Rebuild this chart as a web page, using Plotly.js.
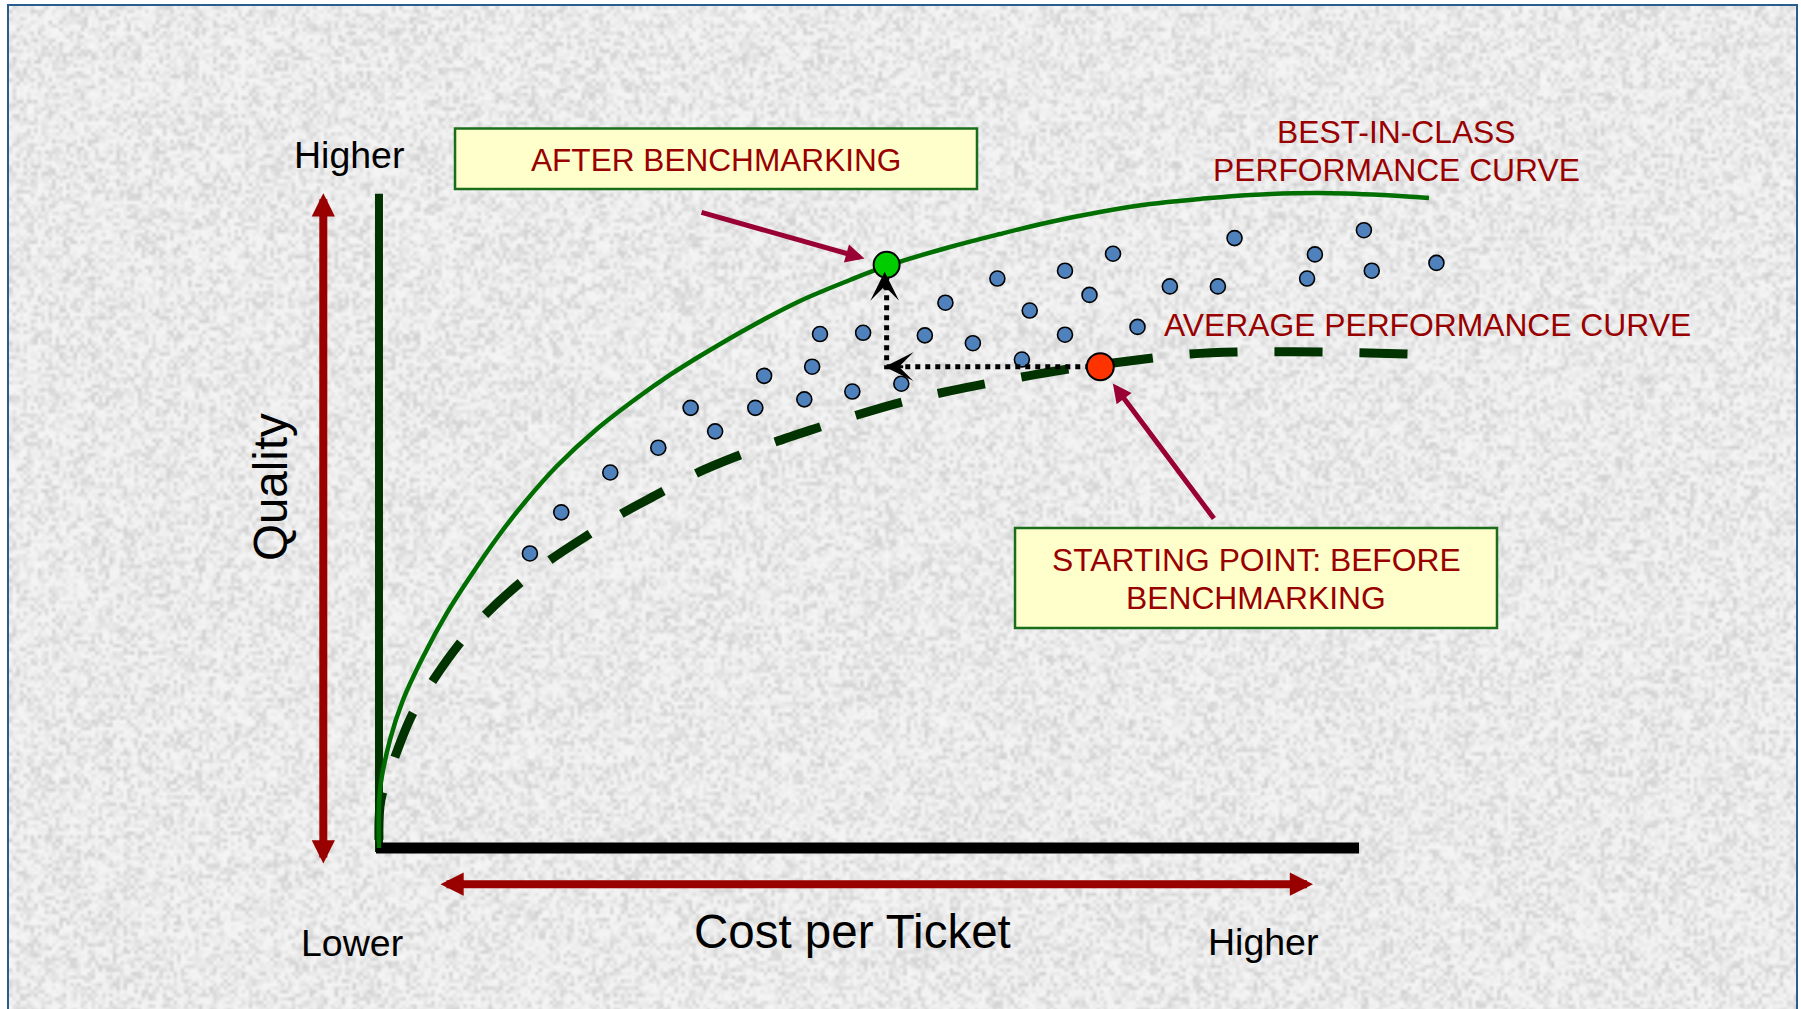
<!DOCTYPE html>
<html>
<head>
<meta charset="utf-8">
<script src="https://cdn.plot.ly/plotly-3.0.1.min.js"></script>
<style>
html,body{margin:0;padding:0;overflow:hidden;background:#ffffff;}
#chart{width:1801px;height:1009px;}
</style>
</head>
<body>
<div id="chart"></div>
<script>
// ---------------- DATA (cost index 0-100 along the axis, quality index 0-100) ----------------
const bestCost    = [0, 0.1, 1.12, 2.45, 4.49, 6.94, 9.29, 12.04, 14.9, 18.16, 22.24, 26.33, 29.69, 32.76, 37.86, 42.96, 48.06, 51.84, 58.27, 63.37, 68.47, 73.57, 78.67, 83.78, 88.88, 95.71, 102.45, 107.14];
const bestQuality = [0, 8.88, 16.54, 22.66, 29.25, 35.99, 41.5, 47.47, 52.99, 58.5, 64.17, 68.91, 72.44, 75.34, 79.79, 83.77, 86.98, 89.13, 92.04, 94.03, 95.87, 97.4, 98.62, 99.39, 100.0, 100.31, 100.0, 99.54];

const avgCost    = [0, 0.2, 1.63, 3.37, 5.41, 8.27, 10.82, 14.39, 17.45, 21.33, 24.9, 28.67, 32.45, 36.84, 40.41, 45.0, 48.78, 53.37, 58.27, 65.61, 70.31, 74.9, 78.98, 82.76, 87.65, 96.33, 105.0];
const avgQuality = [1.23, 7.35, 13.94, 20.37, 25.42, 31.39, 35.68, 40.58, 44.1, 47.93, 51.3, 54.36, 57.43, 60.18, 62.17, 64.47, 66.31, 68.3, 70.0, 72.13, 73.35, 74.27, 75.04, 75.65, 75.96, 75.96, 75.65];

const peerCost    = [15.4, 18.6, 23.6, 28.5, 31.8, 34.3, 38.4, 39.3, 43.4, 44.2, 45.0, 48.3, 49.4, 53.3, 55.7, 57.8, 60.6, 63.1, 65.6, 66.4, 70.0, 70.0, 72.5, 74.9, 77.4, 80.7, 85.6, 87.3, 94.7, 95.5, 100.5, 101.3, 107.9];
const peerQuality = [45.1, 51.4, 57.5, 61.3, 67.4, 63.8, 67.4, 72.3, 68.7, 73.7, 78.7, 69.9, 78.9, 71.1, 78.5, 83.5, 77.3, 87.2, 74.8, 82.3, 88.4, 78.6, 84.7, 91.0, 79.8, 86.0, 86.0, 93.4, 87.2, 90.9, 94.6, 88.4, 89.6];

const startCost    = [73.6];   // starting point: before benchmarking
const startQuality = [73.7];
const afterCost    = [51.8];   // after benchmarking
const afterQuality = [89.3];

const axisLabels = {qualityLow: 'Lower', qualityHigh: 'Higher', costHigh: 'Higher'};

// ---------------- BACKGROUND TEXTURE ----------------
function paperTexture(w, h) {
  const c = document.createElement('canvas');
  c.width = w; c.height = h;
  const ctx = c.getContext('2d');
  const img = ctx.createImageData(w, h);
  let s = 987654321;
  for (let i = 0; i < w * h; i++) {
    s = (s * 1664525 + 1013904223) >>> 0;
    const r = s / 4294967296;
    const v = Math.round(245 - 36 * r * r);
    img.data[4 * i] = v; img.data[4 * i + 1] = v; img.data[4 * i + 2] = v; img.data[4 * i + 3] = 255;
  }
  ctx.putImageData(img, 0, 0);
  return c.toDataURL();
}

const FONT = 'Liberation Sans, Arial, sans-serif';
const DARKRED = '#990000';
const ARROWRED = '#990033';

// ---------------- TRACES ----------------
const traces = [
  { x: avgCost, y: avgQuality, mode: 'lines', type: 'scatter',
    line: { color: '#003300', width: 9, dash: '48px,37px', shape: 'spline', smoothing: 1 } },
  { x: bestCost, y: bestQuality, mode: 'lines', type: 'scatter',
    line: { color: '#006e00', width: 4.5, shape: 'spline', smoothing: 1 } },
  { x: peerCost, y: peerQuality, mode: 'markers', type: 'scatter',
    marker: { size: 15, color: '#4f81bd', line: { color: '#000000', width: 1.6 } } },
  { x: [startCost[0], afterCost[0], afterCost[0]], y: [startQuality[0], startQuality[0], afterQuality[0]],
    mode: 'lines', type: 'scatter', line: { color: '#000000', width: 5, dash: 'dot' } },
  { x: startCost, y: startQuality, mode: 'markers', type: 'scatter',
    marker: { size: 27, color: '#ff3300', line: { color: '#000000', width: 2 } } },
  { x: afterCost, y: afterQuality, mode: 'markers', type: 'scatter',
    marker: { size: 26, color: '#00cc00', line: { color: '#000000', width: 2 } } }
];

// ---------------- LAYOUT ----------------
const layout = {
  width: 1801, height: 1009,
  margin: { l: 0, r: 0, t: 0, b: 0 },
  paper_bgcolor: '#ffffff',
  plot_bgcolor: 'rgba(0,0,0,0)',
  showlegend: false,
  hovermode: false,
  xaxis: { range: [-38.67, 145.10], visible: false },
  yaxis: { range: [-24.66, 129.86], visible: false },
  images: [{
    source: paperTexture(500, 280), xref: 'paper', yref: 'paper',
    x: 0.005, y: 0.994, sizex: 0.993, sizey: 1.0, sizing: 'stretch',
    xanchor: 'left', yanchor: 'top', layer: 'below'
  }],
  shapes: [
    // frame
    { type: 'rect', xref: 'paper', yref: 'paper', x0: 8 / 1801, x1: 1797 / 1801, y0: -0.02, y1: 1 - 5 / 1009,
      line: { color: '#2a5d8f', width: 2 }, fillcolor: 'rgba(0,0,0,0)' },
    // vertical axis (quality)
    { type: 'line', xref: 'x', yref: 'y', x0: 0, x1: 0, y0: -0.6, y1: 100.2,
      line: { color: '#003300', width: 8 }, layer: 'below' },
    // horizontal axis (cost)
    { type: 'line', xref: 'x', yref: 'y', x0: -0.3, x1: 100, y0: 0, y1: 0,
      line: { color: '#000000', width: 11 }, layer: 'below' },
    // after benchmarking box
    { type: 'rect', xref: 'x', yref: 'y', x0: 7.76, x1: 61.02, y0: 100.92, y1: 110.18,
      fillcolor: '#ffffcc', line: { color: '#1a6e1a', width: 2.5 } },
    // starting point box
    { type: 'rect', xref: 'x', yref: 'y', x0: 64.9, x1: 114.08, y0: 33.69, y1: 49.0,
      fillcolor: '#ffffcc', line: { color: '#1a6e1a', width: 2.5 } }
  ],
  annotations: [
    // direction arrows (dark red, double headed)
    { x: -5.68, y: 100.26, ax: -5.68, ay: -2.6, xref: 'x', yref: 'y', axref: 'x', ayref: 'y', text: '',
      showarrow: true, arrowside: 'end+start', arrowhead: 2, startarrowhead: 2, arrowsize: 0.58, startarrowsize: 0.58,
      arrowwidth: 8, arrowcolor: DARKRED },
    { x: 95.31, y: -5.54, ax: 6.12, ay: -5.54, xref: 'x', yref: 'y', axref: 'x', ayref: 'y', text: '',
      showarrow: true, arrowside: 'end+start', arrowhead: 2, startarrowhead: 2, arrowsize: 0.58, startarrowsize: 0.58,
      arrowwidth: 8, arrowcolor: DARKRED },
    // dotted arrow heads
    { x: afterCost[0] - 0.2, y: startQuality[0], ax: 20, ay: 0, xref: 'x', yref: 'y', text: '',
      showarrow: true, arrowhead: 3, arrowsize: 1.6, arrowwidth: 3, arrowcolor: '#000000' },
    { x: afterCost[0] - 0.2, y: afterQuality[0], ax: 0, ay: 26, xref: 'x', yref: 'y', text: '', standoff: 7,
      showarrow: true, arrowhead: 3, arrowsize: 1.6, arrowwidth: 3, arrowcolor: '#000000' },
    // pointer arrows
    { x: afterCost[0], y: afterQuality[0], ax: 32.76, ay: 97.4, xref: 'x', yref: 'y', axref: 'x', ayref: 'y', text: '',
      standoff: 23, showarrow: true, arrowhead: 2, arrowsize: 0.75, arrowwidth: 5, arrowcolor: ARROWRED },
    { x: startCost[0], y: startQuality[0], ax: 85.31, ay: 50.23, xref: 'x', yref: 'y', axref: 'x', ayref: 'y', text: '',
      standoff: 21, showarrow: true, arrowhead: 2, arrowsize: 0.75, arrowwidth: 5, arrowcolor: ARROWRED },
    // axis texts
    { x: -3.06, y: 106.13, xref: 'x', yref: 'y', text: axisLabels.qualityHigh, showarrow: false,
      font: { family: FONT, size: 37.5, color: '#000000' } },
    { x: -2.76, y: -14.55, xref: 'x', yref: 'y', text: axisLabels.qualityLow, showarrow: false,
      font: { family: FONT, size: 37.5, color: '#000000' } },
    { x: 90.2, y: -14.45, xref: 'x', yref: 'y', text: axisLabels.costHigh, showarrow: false,
      font: { family: FONT, size: 37.5, color: '#000000' } },
    { x: 48.27, y: -12.79, xref: 'x', yref: 'y', text: 'Cost per Ticket', showarrow: false,
      font: { family: FONT, size: 47.5, color: '#000000' } },
    { x: -11.12, y: 55.28, xref: 'x', yref: 'y', text: 'Quality', showarrow: false, textangle: -90,
      font: { family: FONT, size: 47.5, color: '#000000' } },
    // red labels
    { x: 34.39, y: 105.36, xref: 'x', yref: 'y', text: 'AFTER BENCHMARKING', showarrow: false,
      font: { family: FONT, size: 31.6, color: DARKRED } },
    { x: 89.49, y: 44.15, xref: 'x', yref: 'y', text: 'STARTING POINT: BEFORE', showarrow: false,
      font: { family: FONT, size: 31.8, color: DARKRED } },
    { x: 89.49, y: 38.32, xref: 'x', yref: 'y', text: 'BENCHMARKING', showarrow: false,
      font: { family: FONT, size: 31.8, color: DARKRED } },
    { x: 103.78, y: 109.65, xref: 'x', yref: 'y', text: 'BEST-IN-CLASS', showarrow: false,
      font: { family: FONT, size: 31.8, color: DARKRED } },
    { x: 103.78, y: 103.83, xref: 'x', yref: 'y', text: 'PERFORMANCE CURVE', showarrow: false,
      font: { family: FONT, size: 31.8, color: DARKRED } },
    { x: 106.94, y: 80.14, xref: 'x', yref: 'y', text: 'AVERAGE PERFORMANCE CURVE', showarrow: false,
      font: { family: FONT, size: 31.8, color: DARKRED } }
  ]
};

Plotly.newPlot('chart', traces, layout, { staticPlot: true, displayModeBar: false });
</script>
</body>
</html>
